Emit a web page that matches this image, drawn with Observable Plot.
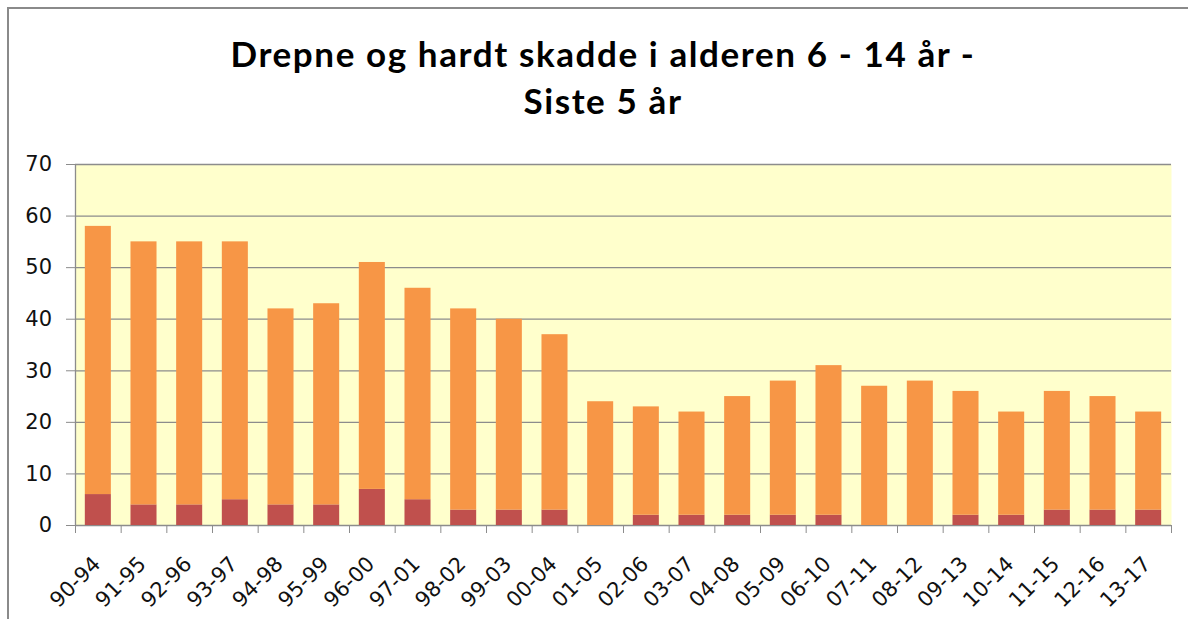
<!DOCTYPE html>
<html>
<head>
<meta charset="utf-8">
<script src="https://cdn.jsdelivr.net/npm/d3@7"></script>
<script src="https://cdn.jsdelivr.net/npm/@observablehq/plot@0.6"></script>
<style>
  html, body { margin: 0; padding: 0; background: #fff; width: 1188px; height: 619px; overflow: hidden; }
  #frame { position: absolute; left: 7px; top: 7px; width: 1181px; height: 612px;
           border-top: 2px solid #8a8a8a; border-left: 2px solid #8a8a8a; box-sizing: border-box; }
  #title { position: absolute; left: 0; top: 0; width: 1188px; height: 150px; box-sizing: border-box;
           padding-top: 30px; padding-left: 18px; text-align: center; font-family: Lato, sans-serif;
           font-weight: bold; font-size: 35px; letter-spacing: 1.6px; line-height: 47px; color: #000; }
  #chart { position: absolute; left: 0; top: 150px; }
</style>
</head>
<body>
<div id="frame"></div>
<div id="title">Drepne og hardt skadde i alderen 6 - 14 år -<br>Siste 5 år</div>
<div id="chart"></div>
<script>
const periods = ["90-94","91-95","92-96","93-97","94-98","95-99","96-00","97-01","98-02","99-03","00-04","01-05",
                 "02-06","03-07","04-08","05-09","06-10","07-11","08-12","09-13","10-14","11-15","12-16","13-17"];
const killed  = [6,4,4,5,4,4,7,5,3,3,3,0,2,2,2,2,2,0,0,2,2,3,3,3];
const injured = [52,51,51,50,38,39,44,41,39,37,34,24,21,20,23,26,29,27,28,24,20,23,22,19];
const seriesNames = ["Drepne","Hardt skadde"];
const seriesColors = ["#C0504D","#F79646"];
const yTicks = [0,10,20,30,40,50,60,70];

// stacked segments built from the arrays: killed at the bottom, injured on top
const data = [];
periods.forEach((p, i) => {
  data.push({i, period: p, series: seriesNames[0], y1: 0, y2: killed[i]});
  data.push({i, period: p, series: seriesNames[1], y1: killed[i], y2: killed[i] + injured[i]});
});
const gap = 0.215; // half of the gap between bars, as a fraction of a category slot
const n = periods.length;
const boundaries = d3.range(n + 1);
const labels = periods.map((p, i) => ({pos: i + 0.5, label: p}));

const font = "'DejaVu Sans', sans-serif";
const chart = Plot.plot({
  width: 1188, height: 469,
  marginTop: 14, marginLeft: 75, marginRight: 17, marginBottom: 94,
  style: {fontFamily: font, fontSize: "21px", color: "#000", background: "transparent", overflow: "visible"},
  x: {domain: [0, n], axis: null},
  y: {domain: [0, 70], axis: null},
  color: {domain: seriesNames, range: seriesColors},
  marks: [
    Plot.frame({fill: "#FFFFCC", stroke: null}),
    Plot.ruleY(yTicks, {stroke: "#8c8c8c", strokeWidth: 1.3}),
    Plot.ruleX([0], {stroke: "#8c8c8c", strokeWidth: 1.3}),
    Plot.rect(data, {x1: d => d.i + gap, x2: d => d.i + 1 - gap, y1: "y1", y2: "y2", fill: "series"}),
    Plot.axisY({ticks: yTicks, tickSize: 9, tickFormat: () => "", stroke: "#8c8c8c", label: null}),
    Plot.text(yTicks, {x: 0, y: d => d, text: d => String(d), textAnchor: "end", dx: -23.5,
                       fontSize: 21, fontFamily: font, fill: "#111", ariaLabel: "ylabels"}),
    Plot.axisX({ticks: boundaries, tickSize: 8, tickFormat: () => "", stroke: "#8c8c8c", label: null}),
    Plot.text(labels, {x: "pos", y: 0, text: "label", rotate: -45, textAnchor: "end", dx: -1.5, dy: 35,
                       fontSize: 21, fontFamily: font, fill: "#111", ariaLabel: "xlabels"})
  ]
});
document.getElementById("chart").appendChild(chart);

// widen the tick labels to the proportions of the reference (its text is slightly stretched)
function stretch(groupLabel, refText, target) {
  const texts = Array.from(chart.querySelectorAll(`g[aria-label="${groupLabel}"] text`));
  const ref = texts.find(t => t.textContent === refText);
  if (!ref) return;
  const factor = target / ref.getComputedTextLength();
  texts.forEach(t => {
    t.setAttribute("textLength", (t.getComputedTextLength() * factor).toFixed(2));
    t.setAttribute("lengthAdjust", "spacingAndGlyphs");
  });
}
stretch("ylabels", "70", 28.5);
stretch("xlabels", "90-94", 57);
</script>
</body>
</html>
